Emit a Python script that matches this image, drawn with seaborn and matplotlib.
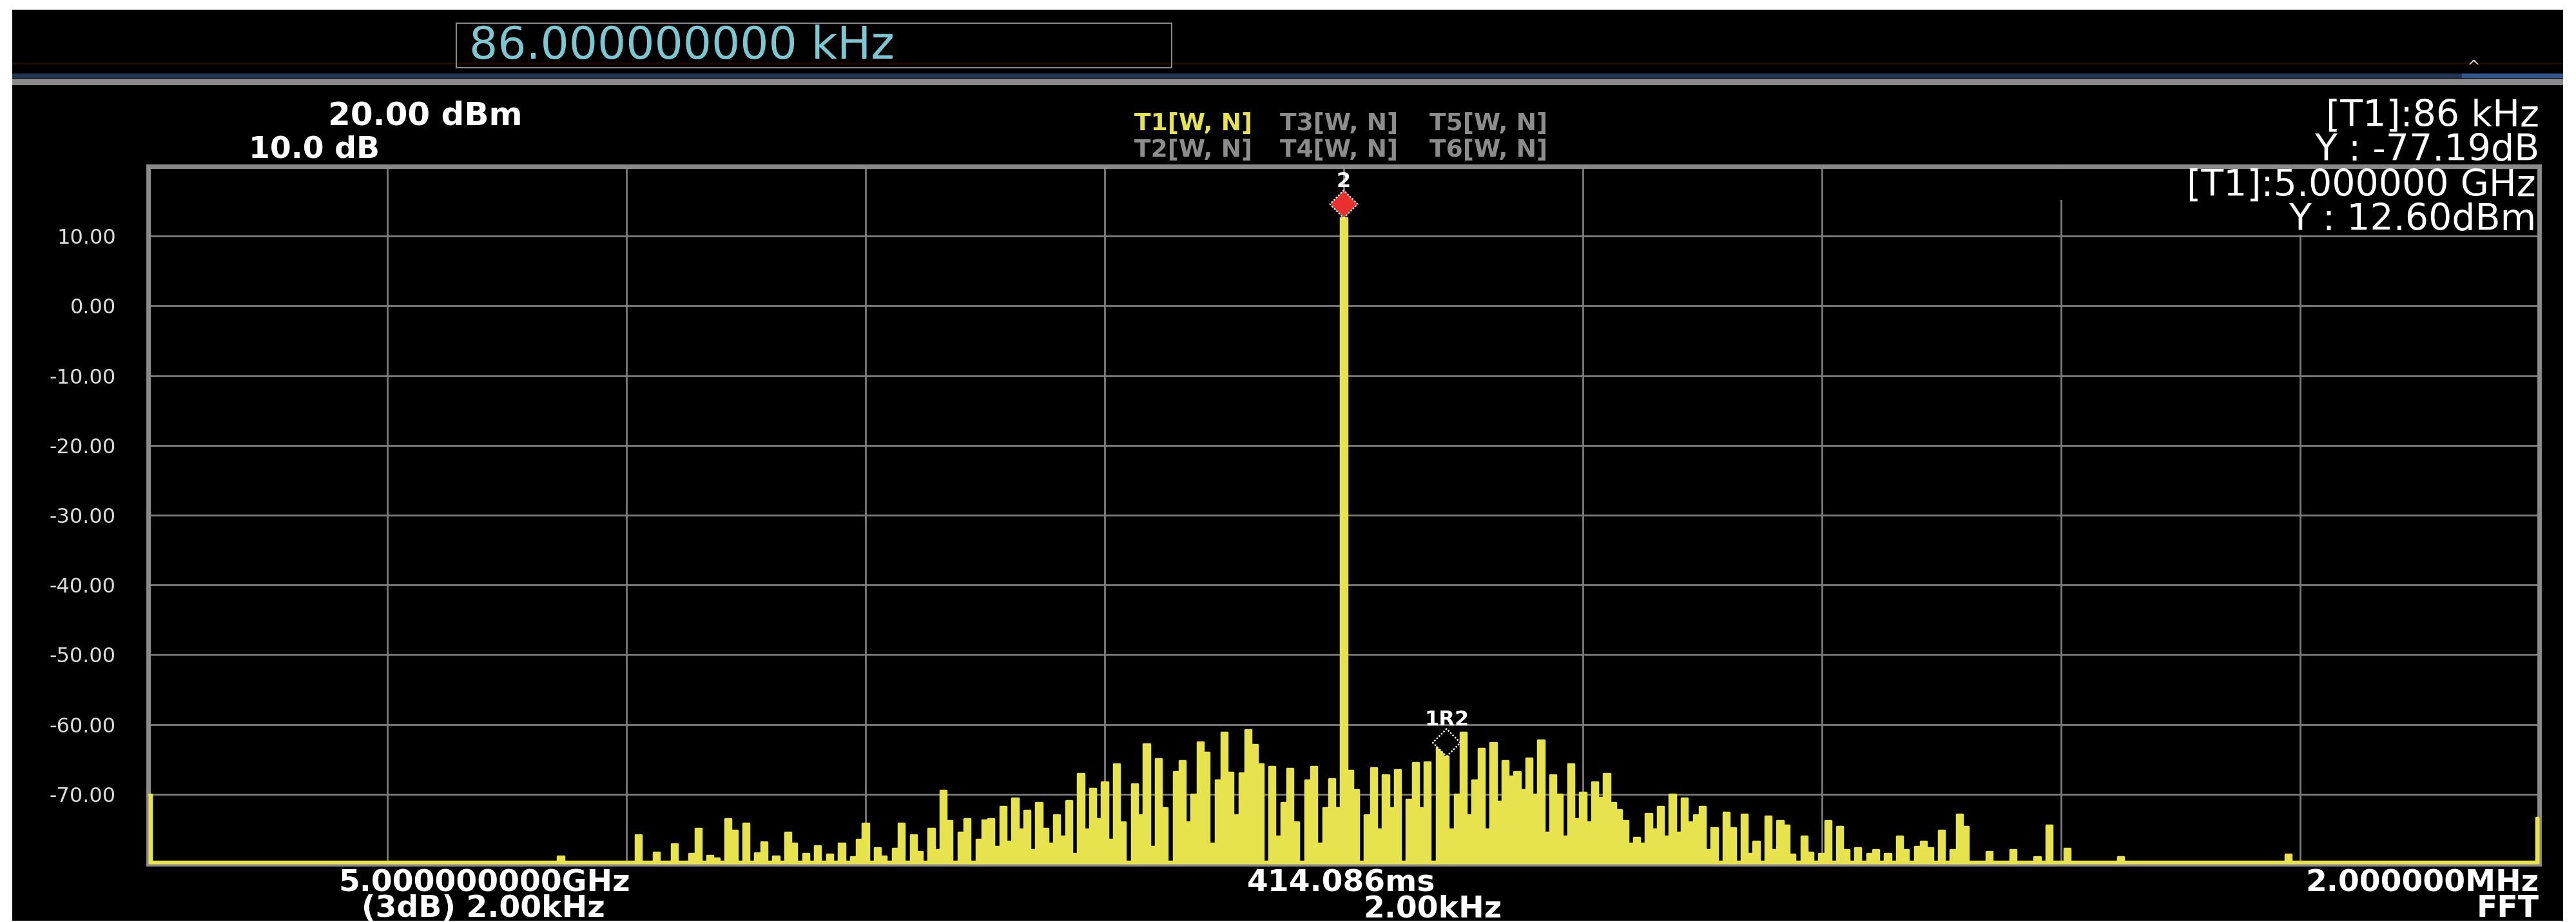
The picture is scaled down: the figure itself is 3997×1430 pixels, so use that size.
import numpy as np
import pandas as pd
import matplotlib.pyplot as plt
import seaborn as sns
from matplotlib.patches import Rectangle
from matplotlib.path import Path
from matplotlib.ticker import FormatStrFormatter

W, H, DPI = 3998, 1430, 100

# trace outside the sideband noise (kHz offset from centre, dBm)
left_freq = [-1000, -995, -660, -655, -650, -605]
left_level = [-70.0, -79.6, -79.6, -78.9, -79.6, -79.6]

# sideband noise, 5 kHz bins starting at -600 kHz
grass_start = -600
grass_step = 5
grass_level = [
    -79.6, -79.6, -75.8, -79.6, -79.6, -78.3, -79.6, -79.6, -77.1, -79.6,
    -79.6, -78.5, -74.9, -79.6, -78.8, -79.2, -79.6, -73.5, -75.2, -79.6,
    -74.2, -79.6, -78.4, -76.9, -79.6, -78.9, -79.6, -75.5, -77.0, -79.6,
    -78.5, -79.6, -77.4, -79.6, -78.6, -79.6, -77.0, -79.6, -79.0, -76.5,
    -74.2, -79.6, -77.7, -78.9, -79.6, -77.8, -74.2, -79.6, -75.8, -78.2,
    -79.6, -74.9, -78.0, -69.5, -73.8, -79.6, -75.5, -73.5, -79.6, -76.5,
    -73.7, -73.5, -77.5, -71.8, -76.8, -70.6, -75.0, -72.3, -78.0, -71.2,
    -74.9, -77.0, -73.0, -76.0, -70.9, -78.5, -67.1, -75.0, -69.2, -73.5,
    -68.3, -76.5, -65.7, -74.0, -79.6, -68.5, -73.0, -62.8, -77.5, -64.9,
    -72.0, -79.6, -66.8, -65.2, -74.0, -70.0, -62.5, -64.0, -77.0, -68.0,
    -61.1, -66.9, -73.0, -67.0, -60.8, -62.9, -65.7, -79.6, -66.0, -76.0,
    -71.2, -66.3, -74.0, -79.6, -68.0, -66.0, -77.0, -72.0, -67.8, -72.0,
    12.6, -66.6, -69.4, -79.6, -73.0, -66.2, -75.0, -67.2, -72.0, -66.5,
    -79.6, -70.8, -65.5, -72.0, -65.4, -79.6, -63.2, -64.6, -75.0, -70.0,
    -61.1, -73.0, -68.0, -63.5, -75.0, -62.6, -71.0, -65.2, -67.4, -66.8,
    -69.4, -64.8, -70.0, -62.3, -75.5, -67.2, -70.0, -76.0, -65.7, -73.5,
    -69.7, -74.0, -68.3, -70.5, -67.1, -71.2, -72.2, -73.8, -77.0, -76.2,
    -77.0, -72.8, -75.0, -71.8, -76.0, -70.0, -75.5, -70.6, -74.0, -73.0,
    -71.8, -78.0, -74.8, -79.6, -72.6, -74.8, -79.6, -72.9, -78.5, -76.8,
    -79.6, -73.2, -78.0, -73.8, -74.5, -78.6, -79.6, -76.0, -78.3, -79.6,
    -78.5, -73.8, -79.6, -74.6, -78.0, -79.6, -77.7, -79.6, -78.5, -78.0,
    -79.6, -78.5, -79.6, -76.0, -78.0, -79.6, -77.5, -76.8, -77.7, -79.6,
    -75.2, -79.6, -78.0, -72.9, -74.6, -79.6, -79.6, -79.6, -78.2, -79.6,
    -79.6, -79.6, -78.0, -79.6, -79.6, -79.6, -79.0, -79.6, -74.5, -79.6,
    -79.6, -77.8,
]

right_freq = [610, 645, 650, 655, 785, 790, 795, 995, 1000]
right_level = [-79.6, -79.6, -79.0, -79.6, -79.6, -78.6, -79.6, -79.6, -73.3]

# markers
marker_names = ["2", "1R2"]
marker_freq = [0, 86]
marker_level = [12.60, 12.60 - 77.19]

y_ticks = [10, 0, -10, -20, -30, -40, -50, -60, -70]
x_grid = [-800, -600, -400, -200, 0, 200, 400, 600, 800]

YELLOW = "#e6e34e"
GRID = "#7c7c7c"
BORDER = "#8a8a8a"

sns.set_style("dark", {"axes.facecolor": "black", "figure.facecolor": "white",
                       "grid.color": GRID, "axes.edgecolor": BORDER})
plt.rcParams["font.family"] = ["DejaVu Sans"]

fig = plt.figure(figsize=(W / DPI, H / DPI), dpi=DPI)


def px(x, y):
    return x / W, 1 - y / H


def ftext(x, y, s, **kw):
    fx, fy = px(x, y)
    return fig.text(fx, fy, s, **kw)


def frect(x0, y0, x1, y1, **kw):
    fx, fy = px(x0, y1)
    r = Rectangle((fx, fy), (x1 - x0) / W, (y1 - y0) / H, transform=fig.transFigure, **kw)
    fig.add_artist(r)
    return r


# black instrument screen with header bars
frect(19, 15, 3977, 1428, facecolor="black", edgecolor="none", zorder=-10)
frect(19, 97, 3977, 100, facecolor="#220606", edgecolor="none", zorder=-9)
frect(19, 114, 3977, 121, facecolor="#1f3555", edgecolor="none", zorder=-9)
frect(3820, 114, 3977, 121, facecolor="#2f5690", edgecolor="none", zorder=-9)
frect(19, 122, 3977, 132, facecolor="#8a8a8a", edgecolor="none", zorder=-9)
frect(708, 36, 1818, 105, facecolor="none", edgecolor=BORDER, linewidth=1.5, zorder=-8)
ftext(728, 72, "86.000000000 kHz", color="#7cc8d2", fontsize=50, va="center", ha="left")
ftext(3838, 104, "^", color="#d0d0d0", fontsize=18, va="center", ha="center")

# top-left scale info
ftext(660, 180, "20.00 dBm", color="white", fontsize=36, fontweight="bold", va="center", ha="center")
ftext(488, 232, "10.0 dB", color="white", fontsize=34, fontweight="bold", va="center", ha="center")

# trace legend
trace_names = [["T1[W, N]", "T3[W, N]", "T5[W, N]"], ["T2[W, N]", "T4[W, N]", "T6[W, N]"]]
for r, row in enumerate(trace_names):
    for c, name in enumerate(row):
        col = YELLOW if name.startswith("T1") else "#8c8c8c"
        ftext([1760, 1986, 2218][c], [192, 233][r], name, color=col, fontsize=27,
              fontweight="bold", va="center", ha="left")

# main axes
ax = fig.add_axes([230 / W, 1 - 1340 / H, (3940 - 230) / W, (1340 - 258) / H])
trace = pd.DataFrame({
    "freq_khz": np.concatenate([left_freq,
                                grass_start + grass_step * np.arange(len(grass_level)),
                                right_freq]),
    "level_dbm": np.concatenate([left_level, grass_level, right_level]),
})
# instrument draws each column as a min..max bar, so fill under the trace
ax.fill_between(trace["freq_khz"], -80, trace["level_dbm"], step="mid",
                color=YELLOW, linewidth=0, zorder=3)
sns.lineplot(data=trace, x="freq_khz", y="level_dbm", ax=ax, color=YELLOW,
             linewidth=2.5, drawstyle="steps-mid", estimator=None, sort=False, zorder=3)

# diamond whose bottom tip sits on the marker value
diamond = Path([(0, 0), (1, 1), (0, 2), (-1, 1), (0, 0)],
               [Path.MOVETO, Path.LINETO, Path.LINETO, Path.LINETO, Path.CLOSEPOLY])
mk = pd.DataFrame({"name": marker_names, "freq_khz": marker_freq, "level_dbm": marker_level})
sns.scatterplot(data=mk, x="freq_khz", y="level_dbm", hue="name",
                palette={"2": "#e8302f", "1R2": "black"}, marker=diamond, s=3800,
                edgecolor="#f4f4f4", linewidth=1.8, linestyle=(0, (1, 1)),
                legend=False, ax=ax, zorder=5, clip_on=False)
for name, f, l in zip(marker_names, marker_freq, marker_level):
    ax.annotate(name, (f, l), xytext=(0, 41), textcoords="offset points",
                ha="center", va="center", color="white", fontsize=23,
                fontweight="bold", annotation_clip=False, zorder=6)

ax.set_xlim(-1000, 1000)
ax.set_ylim(-80, 20)
ax.set_xticks(x_grid)
ax.set_xticklabels([])
ax.set_yticks(y_ticks)
ax.yaxis.set_major_formatter(FormatStrFormatter("%.2f"))
ax.tick_params(axis="both", length=0)
ax.tick_params(axis="y", colors="#dcdcdc", labelsize=23, pad=36)
ax.grid(True, color=GRID, linewidth=2.0)
ax.set_axisbelow(True)
ax.set_xlabel("")
ax.set_ylabel("")
for sp in ax.spines.values():
    sp.set_visible(True)
    sp.set_color(BORDER)
    sp.set_linewidth(5)

# marker readouts (black panel over the grid)
frect(3150, 262, 3934, 310, facecolor="black", edgecolor="none", zorder=1)
frect(3480, 310, 3934, 364, facecolor="black", edgecolor="none", zorder=1)
ftext(3940, 180, "[T1]:86 kHz", color="white", fontsize=41, va="center", ha="right")
ftext(3940, 234, "Y : -77.19dB", color="white", fontsize=41, va="center", ha="right")
ftext(3935, 288, "[T1]:5.000000 GHz", color="white", fontsize=41, va="center", ha="right")
ftext(3935, 341, "Y : 12.60dBm", color="white", fontsize=41, va="center", ha="right")

# bottom annotation
bold = dict(color="white", fontsize=34, fontweight="bold", va="center")
ftext(752, 1370, "5.000000000GHz", ha="center", **bold)
ftext(750, 1410, "(3dB) 2.00kHz", ha="center", **bold)
ftext(2081, 1370, "414.086ms", ha="center", **bold)
ftext(2223, 1410, "2.00kHz", ha="center", **bold)
ftext(3940, 1370, "2.000000MHz", ha="right", **bold)
ftext(3940, 1410, "FFT", ha="right", **bold)

fig.savefig("out.png", dpi=DPI, facecolor="white")
